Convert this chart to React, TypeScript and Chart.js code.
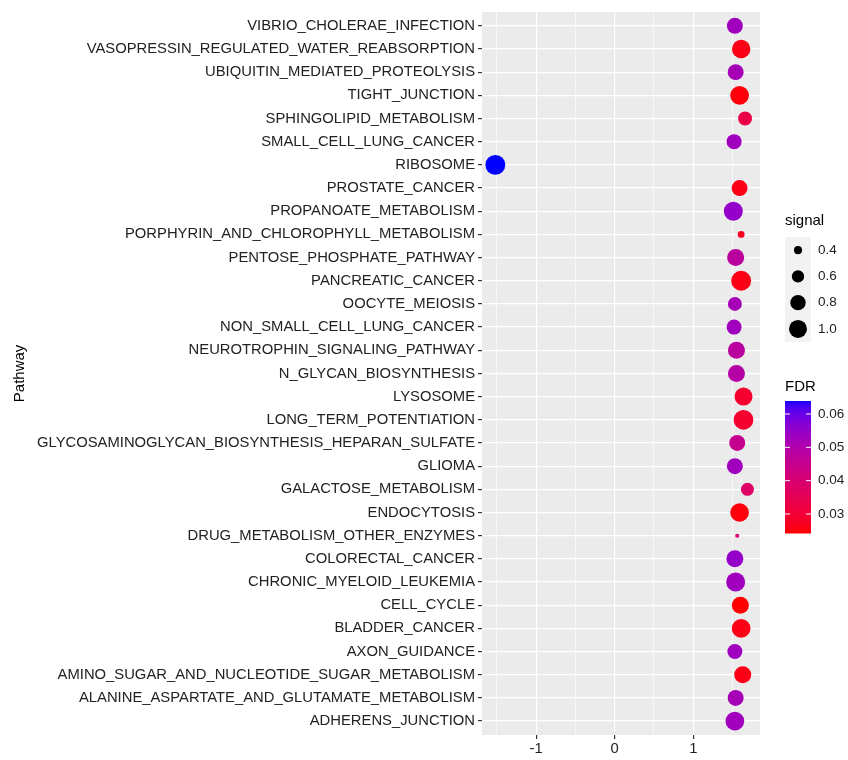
import React, { useEffect, useRef } from "react";
import { Chart, registerables } from "chart.js";

Chart.register(...registerables);

// Pathways listed top to bottom
const pathways = [
  "VIBRIO_CHOLERAE_INFECTION",
  "VASOPRESSIN_REGULATED_WATER_REABSORPTION",
  "UBIQUITIN_MEDIATED_PROTEOLYSIS",
  "TIGHT_JUNCTION",
  "SPHINGOLIPID_METABOLISM",
  "SMALL_CELL_LUNG_CANCER",
  "RIBOSOME",
  "PROSTATE_CANCER",
  "PROPANOATE_METABOLISM",
  "PORPHYRIN_AND_CHLOROPHYLL_METABOLISM",
  "PENTOSE_PHOSPHATE_PATHWAY",
  "PANCREATIC_CANCER",
  "OOCYTE_MEIOSIS",
  "NON_SMALL_CELL_LUNG_CANCER",
  "NEUROTROPHIN_SIGNALING_PATHWAY",
  "N_GLYCAN_BIOSYNTHESIS",
  "LYSOSOME",
  "LONG_TERM_POTENTIATION",
  "GLYCOSAMINOGLYCAN_BIOSYNTHESIS_HEPARAN_SULFATE",
  "GLIOMA",
  "GALACTOSE_METABOLISM",
  "ENDOCYTOSIS",
  "DRUG_METABOLISM_OTHER_ENZYMES",
  "COLORECTAL_CANCER",
  "CHRONIC_MYELOID_LEUKEMIA",
  "CELL_CYCLE",
  "BLADDER_CANCER",
  "AXON_GUIDANCE",
  "AMINO_SUGAR_AND_NUCLEOTIDE_SUGAR_METABOLISM",
  "ALANINE_ASPARTATE_AND_GLUTAMATE_METABOLISM",
  "ADHERENS_JUNCTION",
];

const scoreValues = [
  1.53, 1.61, 1.54, 1.59, 1.66, 1.52, -1.52, 1.59, 1.51, 1.61, 1.54, 1.61, 1.53,
  1.52, 1.55, 1.55, 1.64, 1.64, 1.56, 1.53, 1.69, 1.59, 1.56, 1.53, 1.54, 1.6,
  1.61, 1.53, 1.63, 1.54, 1.53,
];

const signalValues = [
  0.84, 1.04, 0.84, 1.06, 0.7, 0.77, 1.17, 0.84, 1.08, 0.36, 0.92, 1.17, 0.7,
  0.77, 0.92, 0.92, 1.0, 1.15, 0.84, 0.84, 0.64, 1.06, 0.29, 0.92, 1.08, 0.92,
  1.06, 0.77, 0.92, 0.84, 1.06,
];

const fdrValues = [
  0.053, 0.026, 0.052, 0.025, 0.033, 0.053, 0.0639, 0.026, 0.055, 0.027, 0.048,
  0.026, 0.052, 0.053, 0.048, 0.049, 0.029, 0.029, 0.045, 0.053, 0.038, 0.025,
  0.04, 0.055, 0.053, 0.0243, 0.026, 0.053, 0.026, 0.052, 0.053,
];

const xTickValues = [-1.5, -1, -0.5, 0, 0.5, 1, 1.5];
const signalBreaks = [0.4, 0.6, 0.8, 1.0];
const fdrBreaks = [0.06, 0.05, 0.04, 0.03];

// ---- colour helpers (Lab interpolation like ggplot) ----
function srgbToLin(c: number) {
  c /= 255;
  return c <= 0.04045 ? c / 12.92 : Math.pow((c + 0.055) / 1.055, 2.4);
}
function linToSrgb(c: number) {
  const v = c <= 0.0031308 ? 12.92 * c : 1.055 * Math.pow(c, 1 / 2.4) - 0.055;
  return Math.max(0, Math.min(255, Math.round(v * 255)));
}
function rgbToLab(r: number, g: number, b: number) {
  const R = srgbToLin(r), G = srgbToLin(g), B = srgbToLin(b);
  const X = (0.4124 * R + 0.3576 * G + 0.1805 * B) / 0.95047;
  const Y = 0.2126 * R + 0.7152 * G + 0.0722 * B;
  const Z = (0.0193 * R + 0.1192 * G + 0.9505 * B) / 1.08883;
  const f = (t: number) => (t > 0.008856 ? Math.cbrt(t) : 7.787 * t + 16 / 116);
  const fx = f(X), fy = f(Y), fz = f(Z);
  return [116 * fy - 16, 500 * (fx - fy), 200 * (fy - fz)];
}
function labToRgb(L: number, a: number, b: number) {
  const fy = (L + 16) / 116;
  const fx = fy + a / 500;
  const fz = fy - b / 200;
  const finv = (t: number) => (t > 0.206893 ? t * t * t : (t - 16 / 116) / 7.787);
  const X = finv(fx) * 0.95047, Y = finv(fy), Z = finv(fz) * 1.08883;
  const R = 3.2406 * X - 1.5372 * Y - 0.4986 * Z;
  const G = -0.9689 * X + 1.8758 * Y + 0.0415 * Z;
  const B = 0.0557 * X - 0.204 * Y + 1.057 * Z;
  return `rgb(${linToSrgb(R)},${linToSrgb(G)},${linToSrgb(B)})`;
}
const LOW_LAB = rgbToLab(255, 0, 0);
const HIGH_LAB = rgbToLab(0, 0, 255);
const fdrMin = Math.min(...fdrValues);
const fdrMax = Math.max(...fdrValues);
function fdrColor(v: number) {
  const t = Math.max(0, Math.min(1, (v - fdrMin) / (fdrMax - fdrMin)));
  return labToRgb(
    LOW_LAB[0] + (HIGH_LAB[0] - LOW_LAB[0]) * t,
    LOW_LAB[1] + (HIGH_LAB[1] - LOW_LAB[1]) * t,
    LOW_LAB[2] + (HIGH_LAB[2] - LOW_LAB[2]) * t
  );
}
function signalRadius(s: number) {
  return Math.sqrt(Math.max(4, 433 * s - 109)) / 2;
}

const FONT = "'Liberation Sans', Arial, sans-serif";
const TEXT = "#222";

const panelBg = {
  id: "panelBg",
  beforeDraw(chart: any) {
    const { ctx, chartArea } = chart;
    ctx.save();
    ctx.fillStyle = "#EBEBEB";
    ctx.fillRect(chartArea.left, chartArea.top, chartArea.right - chartArea.left, chartArea.bottom - chartArea.top);
    ctx.restore();
  },
};

const legendPlugin = {
  id: "customLegend",
  afterDraw(chart: any) {
    const ctx = chart.ctx;
    ctx.save();
    // signal legend
    ctx.fillStyle = "#000";
    ctx.font = `15px ${FONT}`;
    ctx.textAlign = "left";
    ctx.textBaseline = "middle";
    ctx.fillText("signal", 785, 221);
    const keyX = 785, keyW = 26, keyTop = 237, keyH = 26.25;
    ctx.fillStyle = "#F2F2F2";
    ctx.fillRect(keyX, keyTop, keyW, keyH * signalBreaks.length);
    signalBreaks.forEach((s, i) => {
      const cy = keyTop + keyH * (i + 0.5);
      ctx.fillStyle = "#000";
      ctx.beginPath();
      ctx.arc(keyX + keyW / 2, cy, signalRadius(s), 0, Math.PI * 2);
      ctx.fill();
      ctx.fillStyle = TEXT;
      ctx.font = `13.5px ${FONT}`;
      ctx.fillText(s.toFixed(1), 818, cy);
    });
    // FDR colourbar
    ctx.fillStyle = "#000";
    ctx.font = `15px ${FONT}`;
    ctx.fillText("FDR", 785, 387);
    const barX = 785, barW = 26, barTop = 401, barBot = 533;
    const steps = barBot - barTop;
    for (let i = 0; i < steps; i++) {
      const v = fdrMax - ((i + 0.5) / steps) * (fdrMax - fdrMin);
      ctx.fillStyle = fdrColor(v);
      ctx.fillRect(barX, barTop + i, barW, 1.5);
    }
    fdrBreaks.forEach((b) => {
      const y = barTop + ((fdrMax - b) / (fdrMax - fdrMin)) * steps;
      ctx.strokeStyle = "#fff";
      ctx.lineWidth = 1;
      ctx.beginPath();
      ctx.moveTo(barX, y);
      ctx.lineTo(barX + 5, y);
      ctx.moveTo(barX + barW - 5, y);
      ctx.lineTo(barX + barW, y);
      ctx.stroke();
      ctx.fillStyle = TEXT;
      ctx.font = `13.5px ${FONT}`;
      ctx.fillText(b.toFixed(2), 818, y);
    });
    ctx.restore();
  },
};

export default function App() {
  const canvasRef = useRef<HTMLCanvasElement | null>(null);

  useEffect(() => {
    if (!canvasRef.current) return;
    const chart = new Chart(canvasRef.current, {
      type: "scatter",
      data: {
        datasets: [
          {
            label: "pathways",
            data: scoreValues.map((x, i) => ({ x, y: i })),
            pointRadius: (c: any) => signalRadius(signalValues[c.dataIndex]),
            pointHoverRadius: (c: any) => signalRadius(signalValues[c.dataIndex]),
            pointBackgroundColor: (c: any) => fdrColor(fdrValues[c.dataIndex]),
            pointBorderWidth: 0,
            pointBorderColor: "rgba(0,0,0,0)",
          },
        ],
      },
      options: {
        animation: false,
        responsive: true,
        maintainAspectRatio: false,
        layout: { padding: { left: 0, top: 7, right: 88, bottom: 0 } },
        plugins: { legend: { display: false }, tooltip: { enabled: false } },
        scales: {
          x: {
            type: "linear",
            min: -1.69,
            max: 1.85,
            afterBuildTicks: (scale: any) => {
              scale.ticks = xTickValues.map((v) => ({ value: v }));
            },
            afterFit: (scale: any) => {
              scale.height = 25;
            },
            border: { display: false },
            grid: {
              color: "#fff",
              lineWidth: (c: any) => (Number.isInteger(c.tick?.value) ? 1.2 : 0.6),
              tickColor: (c: any) => (Number.isInteger(c.tick?.value) ? "#333" : "rgba(0,0,0,0)"),
              tickLength: 4,
              drawTicks: true,
            },
            ticks: {
              autoSkip: false,
              padding: 1,
              color: TEXT,
              font: { family: FONT, size: 14.8 },
              callback: (v: any) => (Number.isInteger(v) ? String(v) : ""),
            },
          },
          y: {
            type: "linear",
            reverse: true,
            min: -0.6,
            max: pathways.length - 0.4,
            afterBuildTicks: (scale: any) => {
              scale.ticks = pathways.map((_, i) => ({ value: i }));
            },
            afterFit: (scale: any) => {
              scale.width = 482;
            },
            border: { display: false },
            grid: {
              color: "#fff",
              lineWidth: 1.2,
              tickColor: "#333",
              tickLength: 4,
            },
            ticks: {
              autoSkip: false,
              padding: 3,
              color: TEXT,
              font: { family: FONT, size: 14.8 },
              callback: (v: any) => pathways[v] ?? "",
            },
            title: {
              display: true,
              text: "Pathway",
              color: "#000",
              font: { family: FONT, size: 15 },
              padding: { top: 11, bottom: 0 },
            },
          },
        },
      },
      plugins: [panelBg, legendPlugin],
    } as any);
    return () => chart.destroy();
  }, []);

  return (
    <div style={{ position: "fixed", left: 0, top: 0, width: 848, height: 760, background: "#fff" }}>
      <canvas ref={canvasRef} />
    </div>
  );
}
